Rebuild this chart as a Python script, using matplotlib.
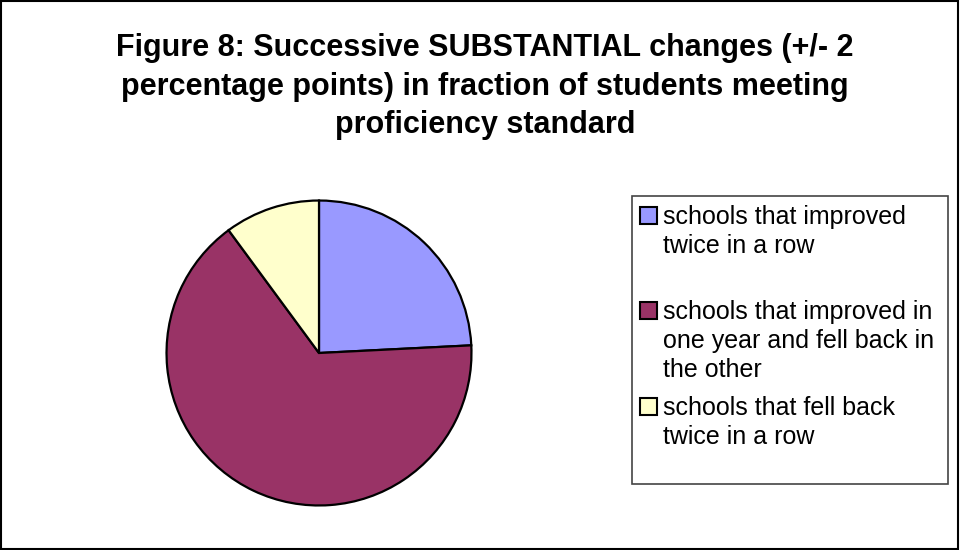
import matplotlib.pyplot as plt
from matplotlib.patches import Rectangle

plt.rcParams['font.family'] = ['Liberation Sans', 'DejaVu Sans']

# Datos del gráfico
title_lines = ["Figure 8: Successive SUBSTANTIAL changes (+/- 2",
               "percentage points) in fraction of students meeting",
               "proficiency standard"]
labels = ["schools that improved\ntwice in a row",
          "schools that improved in\none year and fell back in\nthe other",
          "schools that fell back\ntwice in a row"]
shares = [24.2, 65.7, 10.1]
colors = ['#9999FF', '#993366', '#FFFFCC']

W, H = 960, 550
fig = plt.figure(figsize=(W / 100, H / 100), dpi=100)

def fx(px):
    return px / W

def fy(py):
    return 1 - py / H

# Borde exterior
fig.patches.append(Rectangle((0.001, 0.001), 0.997, 0.997, transform=fig.transFigure,
                             fill=False, edgecolor='black', linewidth=1.5))

# Título (una línea por texto)
for i, line in enumerate(title_lines):
    fig.text(fx(485), fy(56 + 38.5 * i), line, ha='center', va='baseline',
             fontsize=22, fontweight='bold')

# Pastel
cx, cy, r = 319, 353, 154
ax = fig.add_axes([fx(cx - r), fy(cy + r), 2 * r / W, 2 * r / H])
ax.pie(shares, colors=colors, startangle=90, counterclock=False, radius=1,
       wedgeprops=dict(edgecolor='black', linewidth=1.6))
ax.set_xlim(-1.01, 1.01)
ax.set_ylim(-1.01, 1.01)
ax.set_aspect('equal')
ax.axis('off')

# Leyenda manual
fig.patches.append(Rectangle((fx(632), fy(484)), fx(948) - fx(632), fy(196) - fy(484),
                             transform=fig.transFigure, fill=False,
                             edgecolor='#444444', linewidth=1.2))
first_baselines = [224, 319, 415]
for lab, col, b in zip(labels, colors, first_baselines):
    fig.patches.append(Rectangle((fx(640), fy(b)), 17 / W, 17 / H,
                                 transform=fig.transFigure, facecolor=col,
                                 edgecolor='black', linewidth=1.5))
    for j, line in enumerate(lab.split('\n')):
        fig.text(fx(663), fy(b + 29 * j), line, ha='left', va='baseline', fontsize=18)

fig.savefig('out.png', dpi=100)
